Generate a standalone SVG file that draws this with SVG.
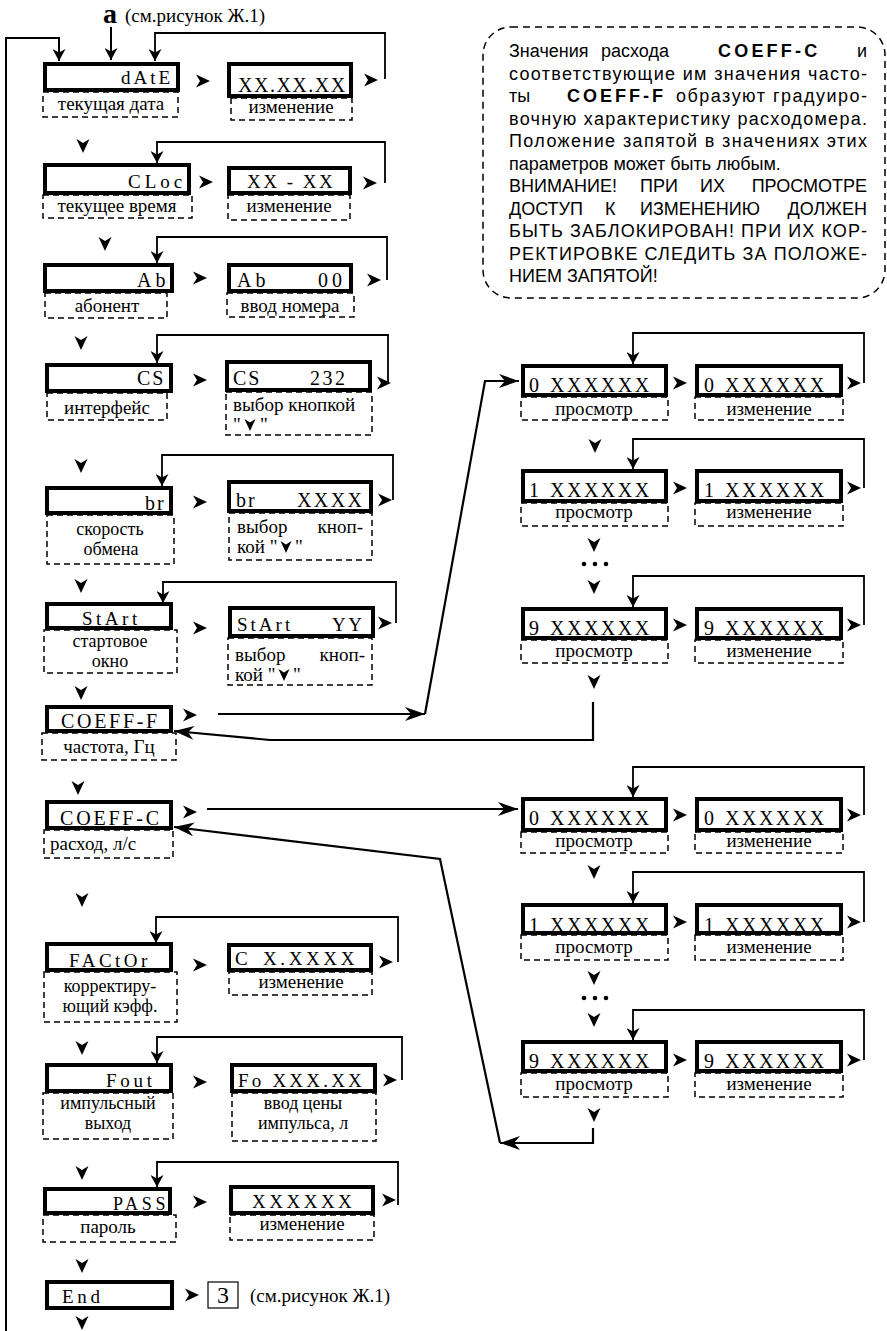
<svg xmlns="http://www.w3.org/2000/svg" xmlns:xlink="http://www.w3.org/1999/xlink" width="887" height="1331" viewBox="0 0 887 1331">
<style>
.bx{fill:#fff;stroke:#000;stroke-width:4}
.db{fill:none;stroke:#000;stroke-width:1.5;stroke-dasharray:6 4}
.ln{fill:none;stroke:#000;stroke-width:1.8}
.lk{fill:none;stroke:#000;stroke-width:2.2}
.v{font-family:"Liberation Serif","Times New Roman",serif;font-size:19px;fill:#000}
.lb{font-family:"Liberation Serif","Times New Roman",serif;font-size:19px;fill:#000;text-anchor:middle}
.l2{font-size:18px}
.lt{font-family:"Liberation Serif","Times New Roman",serif;font-size:19px;fill:#000}
.n{font-family:"Liberation Sans",Arial,sans-serif;font-size:18px;fill:#000}
.nb{font-weight:bold;letter-spacing:3.2px}
</style>
<defs>
<marker id="ah" viewBox="0 0 12 13" refX="12" refY="6.5" markerWidth="12" markerHeight="13" markerUnits="userSpaceOnUse" orient="auto"><path d="M0,0 L12,6.5 L0,13 L3.5,6.5 Z"/></marker>
<marker id="ahb" viewBox="0 0 20 14" refX="20" refY="7" markerWidth="20" markerHeight="14" markerUnits="userSpaceOnUse" orient="auto"><path d="M0,0 L20,7 L0,14 L6,7 Z"/></marker>
<path id="cr" d="M-7,-6.5 L7,0 L-7,6.5 L-3,0 Z"/>
<path id="cd" d="M-6.5,-7 L0,7 L6.5,-7 L0,-3 Z"/>
</defs>
<rect width="887" height="1331" fill="#fff"/>

<g id="ref-top">
<text x="103" y="23" style="font-family:'Liberation Serif',serif;font-size:28px;font-weight:bold">а</text>
<text class="lt" x="125" y="22">(см.рисунок Ж.1)</text>
</g>

<!-- left column -->
<g id="n-date">
<rect class="db" x="43" y="92" width="135" height="25"/>
<rect class="bx" x="45" y="64" width="133" height="26"/>
<text class="v" x="121" y="84" style="letter-spacing:3px">dAtE</text>
<text class="lb" x="111" y="110">текущая дата</text>
</g>
<g id="n-date-edit">
<rect class="db" x="231" y="98" width="121" height="22"/>
<rect class="bx" x="229" y="64" width="122" height="32"/>
<text class="v" x="238" y="92" style="font-size:20px;letter-spacing:1.5px">XX.XX.XX</text>
<text class="lb" x="291" y="113">изменение</text>
</g>

<g id="n-cloc">
<rect class="db" x="43" y="195" width="149" height="23"/>
<rect class="bx" x="45" y="165" width="144" height="28"/>
<text class="v" x="128" y="188" style="letter-spacing:4px">CLoc</text>
<text class="lb" x="117" y="212">текущее время</text>
</g>
<g id="n-cloc-edit">
<rect class="db" x="228" y="195" width="122" height="25"/>
<rect class="bx" x="229" y="168" width="121" height="25"/>
<text class="v" x="247" y="188" xml:space="preserve" style="letter-spacing:2.5px">XX - XX</text>
<text class="lb" x="289" y="212">изменение</text>
</g>

<g id="n-ab">
<rect class="db" x="45" y="293" width="122" height="25"/>
<rect class="bx" x="45" y="265" width="127" height="26"/>
<text class="v" x="137" y="287" style="font-size:20px;letter-spacing:4px">Ab</text>
<text class="lb" x="107" y="312">абонент</text>
</g>
<g id="n-ab-edit">
<rect class="db" x="227" y="293" width="127" height="24"/>
<rect class="bx" x="229" y="265" width="122" height="26"/>
<text class="v" x="237" y="287" style="font-size:20px;letter-spacing:4px">Ab</text>
<text class="v" x="318" y="287" style="font-size:20px;letter-spacing:4px">00</text>
<text class="lb" x="290" y="312">ввод номера</text>
</g>

<g id="n-cs">
<rect class="db" x="47" y="393" width="120" height="27"/>
<rect class="bx" x="47" y="365" width="124" height="26"/>
<text class="v" x="137" y="385" style="font-size:20px;letter-spacing:2px">CS</text>
<text class="lb" x="107" y="414">интерфейс</text>
</g>
<g id="n-cs-edit">
<rect class="db" x="226" y="392" width="146" height="43"/>
<rect class="bx" x="227" y="362" width="143" height="28"/>
<text class="v" x="233" y="385" style="font-size:20px;letter-spacing:2px">CS</text>
<text class="v" x="310" y="385" style="font-size:20px;letter-spacing:2.5px">232</text>
<text class="lt l2" x="233" y="411">выбор кнопкой</text>
<text class="lt l2" x="233" y="431">"</text>
<use href="#cd" transform="translate(250,425) scale(0.85)"/>
<text class="lt l2" x="260" y="431">"</text>
</g>

<g id="n-br">
<rect class="db" x="47" y="515" width="127" height="49"/>
<rect class="bx" x="47" y="488" width="124" height="25"/>
<text class="v" x="145" y="510" style="font-size:20px;letter-spacing:2px">br</text>
<text class="lb l2" x="110" y="535">скорость</text>
<text class="lb l2" x="111" y="555">обмена</text>
</g>
<g id="n-br-edit">
<rect class="db" x="229" y="513" width="143" height="47"/>
<rect class="bx" x="229" y="482" width="142" height="29"/>
<text class="v" x="236" y="507" style="font-size:20px;letter-spacing:2px">br</text>
<text class="v" x="297" y="507" style="font-size:20px;letter-spacing:2.4px">XXXX</text>
<text class="lt l2" x="237" y="533">выбор</text>
<text class="lt l2" x="363" y="533" text-anchor="end">кноп-</text>
<text class="lt l2" x="237" y="553">кой "</text>
<use href="#cd" transform="translate(286,547) scale(0.85)"/>
<text class="lt l2" x="295" y="553">"</text>
</g>

<g id="n-start">
<rect class="db" x="44" y="630" width="133" height="43"/>
<rect class="bx" x="47" y="604" width="124" height="24"/>
<text class="v" x="82" y="625" style="letter-spacing:3.5px">StArt</text>
<text class="lb l2" x="110" y="647">стартовое</text>
<text class="lb l2" x="110" y="667">окно</text>
</g>
<g id="n-start-edit">
<rect class="db" x="228" y="638" width="144" height="47"/>
<rect class="bx" x="230" y="608" width="143" height="28"/>
<text class="v" x="237" y="631" style="letter-spacing:3px">StArt</text>
<text class="v" x="332" y="631" style="letter-spacing:2.5px">YY</text>
<text class="lt l2" x="235" y="661">выбор</text>
<text class="lt l2" x="365" y="661" text-anchor="end">кноп-</text>
<text class="lt l2" x="235" y="681">кой "</text>
<use href="#cd" transform="translate(284,675) scale(0.85)"/>
<text class="lt l2" x="293" y="681">"</text>
</g>

<g id="n-coeff-f">
<rect class="db" x="42" y="733" width="134" height="27"/>
<rect class="bx" x="47" y="707" width="124" height="24"/>
<text class="v" x="61" y="728" style="font-size:20px;letter-spacing:2.7px">COEFF-F</text>
<text class="lb" x="109" y="753">частота, Гц</text>
</g>

<g id="n-coeff-c">
<rect class="db" x="44" y="830" width="129" height="28"/>
<rect class="bx" x="47" y="802" width="124" height="26"/>
<text class="v" x="60" y="825" style="font-size:20px;letter-spacing:2.8px">COEFF-C</text>
<text class="lt" x="50" y="850">расход, л/с</text>
</g>

<g id="n-factor">
<rect class="db" x="44" y="972" width="133" height="50"/>
<rect class="bx" x="47" y="944" width="124" height="26"/>
<text class="v" x="69" y="967" style="letter-spacing:3.5px">FACtOr</text>
<text class="lb l2" x="110" y="992">корректиру-</text>
<text class="lb l2" x="110" y="1012">ющий кэфф.</text>
</g>
<g id="n-factor-edit">
<rect class="db" x="229" y="972" width="143" height="23"/>
<rect class="bx" x="229" y="945" width="142" height="25"/>
<text class="v" x="235" y="965">C</text>
<text class="v" x="263" y="965" style="letter-spacing:3.6px">X.XXXX</text>
<text class="lb" x="301" y="988">изменение</text>
</g>

<g id="n-fout">
<rect class="db" x="43" y="1093" width="130" height="46"/>
<rect class="bx" x="47" y="1065" width="124" height="26"/>
<text class="v" x="106" y="1087" style="letter-spacing:3.7px">Fout</text>
<text class="lb l2" x="108" y="1109">импульсный</text>
<text class="lb l2" x="108" y="1129">выход</text>
</g>
<g id="n-fout-edit">
<rect class="db" x="232" y="1093" width="144" height="48"/>
<rect class="bx" x="232" y="1065" width="143" height="26"/>
<text class="v" x="238" y="1087" xml:space="preserve" style="letter-spacing:3.2px">Fo XXX.XX</text>
<text class="lb l2" x="303" y="1109">ввод цены</text>
<text class="lb l2" x="303" y="1129">импульса, л</text>
</g>

<g id="n-pass">
<rect class="db" x="43" y="1215" width="133" height="27"/>
<rect class="bx" x="45" y="1189" width="125" height="24"/>
<text class="v" x="113" y="1210" style="font-size:18px;letter-spacing:3.7px">PASS</text>
<text class="lb" x="108" y="1233">пароль</text>
</g>
<g id="n-pass-edit">
<rect class="db" x="230" y="1215" width="144" height="25"/>
<rect class="bx" x="231" y="1187" width="142" height="26"/>
<text class="v" x="252" y="1208" style="letter-spacing:3.5px">XXXXXX</text>
<text class="lb" x="302" y="1230">изменение</text>
</g>

<g id="n-end">
<rect class="bx" x="47" y="1282" width="125" height="26"/>
<text class="v" x="62" y="1303" style="letter-spacing:3.7px">End</text>
</g>
<g id="n-ref3">
<rect x="208" y="1282" width="30" height="26" fill="#fff" stroke="#000" stroke-width="1.2"/>
<text class="lb" x="223" y="1303" style="font-size:24px">3</text>
<text class="lt" x="250" y="1302">(см.рисунок Ж.1)</text>
</g>

<!-- right column, COEFF-F table -->
<g id="n-f0-view">
<rect class="db" x="521" y="397" width="147" height="23"/>
<rect class="bx" x="523" y="366" width="143" height="29"/>
<text class="v" x="529" y="392" style="font-size:20px">0</text>
<text class="v" x="550" y="392" style="font-size:20px;letter-spacing:2.5px">XXXXXX</text>
<text class="lb" x="594" y="415">просмотр</text>
</g>
<g id="n-f0-edit">
<rect class="db" x="695" y="397" width="148" height="23"/>
<rect class="bx" x="697" y="366" width="144" height="29"/>
<text class="v" x="704" y="392" style="font-size:20px">0</text>
<text class="v" x="725" y="392" style="font-size:20px;letter-spacing:2.5px">XXXXXX</text>
<text class="lb" x="769" y="415">изменение</text>
</g>
<g id="n-f1-view">
<rect class="db" x="521" y="503" width="147" height="23"/>
<rect class="bx" x="523" y="471" width="143" height="30"/>
<text class="v" x="529" y="497" style="font-size:20px">1</text>
<text class="v" x="550" y="497" style="font-size:20px;letter-spacing:2.5px">XXXXXX</text>
<text class="lb" x="594" y="518">просмотр</text>
</g>
<g id="n-f1-edit">
<rect class="db" x="695" y="503" width="148" height="23"/>
<rect class="bx" x="697" y="471" width="144" height="30"/>
<text class="v" x="704" y="497" style="font-size:20px">1</text>
<text class="v" x="725" y="497" style="font-size:20px;letter-spacing:2.5px">XXXXXX</text>
<text class="lb" x="769" y="518">изменение</text>
</g>
<g id="n-f9-view">
<rect class="db" x="521" y="640" width="147" height="23"/>
<rect class="bx" x="523" y="609" width="143" height="29"/>
<text class="v" x="529" y="635" style="font-size:20px">9</text>
<text class="v" x="550" y="635" style="font-size:20px;letter-spacing:2.5px">XXXXXX</text>
<text class="lb" x="594" y="657">просмотр</text>
</g>
<g id="n-f9-edit">
<rect class="db" x="695" y="640" width="148" height="23"/>
<rect class="bx" x="697" y="609" width="144" height="29"/>
<text class="v" x="704" y="635" style="font-size:20px">9</text>
<text class="v" x="725" y="635" style="font-size:20px;letter-spacing:2.5px">XXXXXX</text>
<text class="lb" x="769" y="657">изменение</text>
</g>

<!-- right column, COEFF-C table -->
<g id="n-c0-view">
<rect class="db" x="521" y="832" width="147" height="21"/>
<rect class="bx" x="523" y="799" width="143" height="31"/>
<text class="v" x="529" y="825" style="font-size:20px">0</text>
<text class="v" x="550" y="825" style="font-size:20px;letter-spacing:2.5px">XXXXXX</text>
<text class="lb" x="594" y="847">просмотр</text>
</g>
<g id="n-c0-edit">
<rect class="db" x="695" y="832" width="148" height="21"/>
<rect class="bx" x="697" y="799" width="144" height="31"/>
<text class="v" x="704" y="825" style="font-size:20px">0</text>
<text class="v" x="725" y="825" style="font-size:20px;letter-spacing:2.5px">XXXXXX</text>
<text class="lb" x="769" y="847">изменение</text>
</g>
<g id="n-c1-view">
<rect class="db" x="521" y="935" width="147" height="25"/>
<rect class="bx" x="523" y="905" width="143" height="28"/>
<text class="v" x="529" y="932" style="font-size:20px">1</text>
<text class="v" x="550" y="932" style="font-size:20px;letter-spacing:2.5px">XXXXXX</text>
<text class="lb" x="594" y="953">просмотр</text>
</g>
<g id="n-c1-edit">
<rect class="db" x="695" y="935" width="148" height="25"/>
<rect class="bx" x="697" y="905" width="144" height="28"/>
<text class="v" x="704" y="932" style="font-size:20px">1</text>
<text class="v" x="725" y="932" style="font-size:20px;letter-spacing:2.5px">XXXXXX</text>
<text class="lb" x="769" y="953">изменение</text>
</g>
<g id="n-c9-view">
<rect class="db" x="521" y="1073" width="147" height="24"/>
<rect class="bx" x="523" y="1042" width="143" height="29"/>
<text class="v" x="529" y="1068" style="font-size:20px">9</text>
<text class="v" x="550" y="1068" style="font-size:20px;letter-spacing:2.5px">XXXXXX</text>
<text class="lb" x="594" y="1090">просмотр</text>
</g>
<g id="n-c9-edit">
<rect class="db" x="695" y="1073" width="148" height="24"/>
<rect class="bx" x="697" y="1042" width="144" height="29"/>
<text class="v" x="704" y="1068" style="font-size:20px">9</text>
<text class="v" x="725" y="1068" style="font-size:20px;letter-spacing:2.5px">XXXXXX</text>
<text class="lb" x="769" y="1090">изменение</text>
</g>

<!-- note -->
<g id="n-note">
<rect x="483" y="27" width="402" height="271" rx="28" ry="28" fill="none" stroke="#000" stroke-width="1.5" stroke-dasharray="7 5"/>
<text class="n" x="509" y="57">Значения</text>
<text class="n" x="601" y="57">расхода</text>
<text class="n nb" x="718" y="57">COEFF-C</text>
<text class="n" x="867" y="57" text-anchor="end">и</text>
<text class="n" x="509" y="79.5" textLength="358" lengthAdjust="spacing">соответствующие им значения часто-</text>
<text class="n" x="509" y="102">ты</text>
<text class="n nb" x="567" y="102" style="letter-spacing:3px">COEFF-F</text>
<text class="n" x="676" y="102" textLength="191" lengthAdjust="spacing">образуют градуиро-</text>
<text class="n" x="509" y="124.5" textLength="358" lengthAdjust="spacing">вочную характеристику расходомера.</text>
<text class="n" x="509" y="147" textLength="358" lengthAdjust="spacing">Положение запятой в значениях этих</text>
<text class="n" x="509" y="169.5">параметров может быть любым.</text>
<text class="n" x="509" y="192">ВНИМАНИЕ!</text>
<text class="n" x="640" y="192">ПРИ</text>
<text class="n" x="700" y="192">ИХ</text>
<text class="n" x="867" y="192" text-anchor="end">ПРОСМОТРЕ</text>
<text class="n" x="509" y="214.5">ДОСТУП</text>
<text class="n" x="605" y="214.5">К</text>
<text class="n" x="640" y="214.5">ИЗМЕНЕНИЮ</text>
<text class="n" x="867" y="214.5" text-anchor="end">ДОЛЖЕН</text>
<text class="n" x="509" y="237" textLength="358" lengthAdjust="spacing">БЫТЬ ЗАБЛОКИРОВАН! ПРИ ИХ КОР-</text>
<text class="n" x="509" y="259.5" textLength="358" lengthAdjust="spacing">РЕКТИРОВКЕ СЛЕДИТЬ ЗА ПОЛОЖЕ-</text>
<text class="n" x="509" y="282">НИЕМ ЗАПЯТОЙ!</text>
</g>

<g id="connectors">
<path class="ln" d="M6,1331 V38 H59 V61" style="stroke-width:2" marker-end="url(#ah)"/>
<path class="ln" d="M111,27 V60" style="stroke-width:2" marker-end="url(#ah)"/>
<path class="ln" d="M385,79 V33 H155 V61" marker-end="url(#ah)"/>
<path class="ln" d="M385,183 V142 H157 V163" marker-end="url(#ah)"/>
<path class="ln" d="M387,280 V237 H157 V263" marker-end="url(#ah)"/>
<path class="ln" d="M388,383 V335 H157 V363" marker-end="url(#ah)"/>
<path class="ln" d="M393,500 V455 H162 V486" marker-end="url(#ah)"/>
<path class="ln" d="M396,623 V582 H163 V603" marker-end="url(#ah)"/>
<path class="ln" d="M398,962 V917 H156 V943" marker-end="url(#ah)"/>
<path class="ln" d="M402,1080 V1037 H157 V1063" marker-end="url(#ah)"/>
<path class="ln" d="M398,1205 V1162 H157 V1187" marker-end="url(#ah)"/>

<path class="ln" d="M864,383 V333 H633 V364" marker-end="url(#ah)"/>
<path class="ln" d="M864,488 V439 H633 V469" marker-end="url(#ah)"/>
<path class="ln" d="M864,625 V576 H633 V607" marker-end="url(#ah)"/>
<path class="ln" d="M864,815 V767 H633 V797" marker-end="url(#ah)"/>
<path class="ln" d="M864,922 V872 H633 V903" marker-end="url(#ah)"/>
<path class="ln" d="M864,1060 V1010 H633 V1040" marker-end="url(#ah)"/>

<path class="lk" d="M218,714 H425" marker-end="url(#ahb)"/>
<path class="lk" d="M425,714 L485,381 H519" marker-end="url(#ahb)"/>
<path class="lk" d="M593,702 V740 H270 L174,731" marker-end="url(#ahb)"/>
<path class="lk" d="M207,809 H518" marker-end="url(#ahb)"/>
<path class="lk" d="M593,1128 V1143 H500" marker-end="url(#ahb)"/>
<path class="lk" d="M500,1143 L440,859 L174,827" marker-end="url(#ahb)"/>

<use href="#cr" x="203" y="81"/>
<use href="#cr" x="371" y="80"/>
<use href="#cr" x="206" y="182"/>
<use href="#cr" x="370" y="183"/>
<use href="#cr" x="200" y="278"/>
<use href="#cr" x="374" y="280"/>
<use href="#cr" x="200" y="380"/>
<use href="#cr" x="384" y="383"/>
<use href="#cr" x="200" y="502"/>
<use href="#cr" x="385" y="500"/>
<use href="#cr" x="200" y="628"/>
<use href="#cr" x="385" y="623"/>
<use href="#cr" x="190" y="715"/>
<use href="#cr" x="190" y="812"/>
<use href="#cr" x="200" y="965"/>
<use href="#cr" x="386" y="962"/>
<use href="#cr" x="200" y="1082"/>
<use href="#cr" x="390" y="1080"/>
<use href="#cr" x="200" y="1202"/>
<use href="#cr" x="389" y="1200"/>
<use href="#cr" x="192" y="1295"/>

<use href="#cr" x="680" y="383"/>
<use href="#cr" x="854" y="383"/>
<use href="#cr" x="680" y="488"/>
<use href="#cr" x="854" y="488"/>
<use href="#cr" x="680" y="625"/>
<use href="#cr" x="854" y="625"/>
<use href="#cr" x="680" y="815"/>
<use href="#cr" x="854" y="815"/>
<use href="#cr" x="680" y="922"/>
<use href="#cr" x="854" y="922"/>
<use href="#cr" x="680" y="1060"/>
<use href="#cr" x="854" y="1060"/>

<use href="#cd" x="83" y="146"/>
<use href="#cd" x="105" y="244"/>
<use href="#cd" x="81" y="343"/>
<use href="#cd" x="81" y="466"/>
<use href="#cd" x="81" y="586"/>
<use href="#cd" x="81" y="693"/>
<use href="#cd" x="78" y="788"/>
<use href="#cd" x="82" y="900"/>
<use href="#cd" x="82" y="1048"/>
<use href="#cd" x="82" y="1173"/>
<use href="#cd" x="82" y="1266"/>
<use href="#cd" x="82" y="1323"/>

<use href="#cd" x="595" y="446"/>
<use href="#cd" x="594" y="545"/>
<use href="#cd" x="594" y="587"/>
<use href="#cd" x="594" y="682"/>
<use href="#cd" x="594" y="872"/>
<use href="#cd" x="594" y="978"/>
<use href="#cd" x="594" y="1020"/>
<use href="#cd" x="594" y="1115"/>

<circle cx="584" cy="564" r="2.3"/>
<circle cx="595" cy="564" r="2.3"/>
<circle cx="606" cy="564" r="2.3"/>
<circle cx="584" cy="998" r="2.3"/>
<circle cx="595" cy="998" r="2.3"/>
<circle cx="606" cy="998" r="2.3"/>
</g>
</svg>
